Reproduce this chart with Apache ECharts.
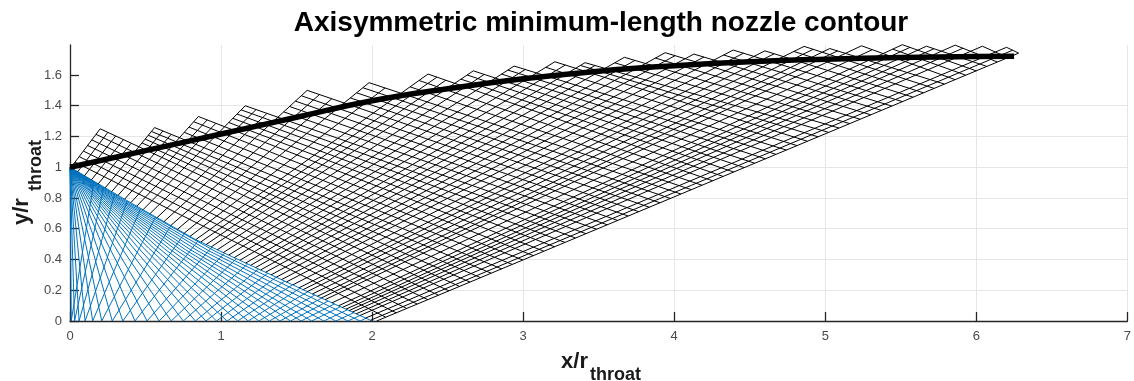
<!DOCTYPE html>
<html>
<head>
<meta charset="utf-8">
<title>Axisymmetric minimum-length nozzle contour</title>
<script src="https://cdn.jsdelivr.net/npm/echarts@6.0.0/dist/echarts.min.js"></script>
<style>
  html, body { margin: 0; padding: 0; background: #fff; }
  #chart { width: 1134px; height: 381px; }
</style>
</head>
<body>
<div id="chart"></div>
<script>
// expansion fan from the throat corner (0,1): where each wave meets the axis
const fanAxisX = [0.008, 0.03, 0.06, 0.1, 0.15, 0.21, 0.28, 0.35, 0.43, 0.51, 0.59, 0.67, 0.75, 0.83,
  0.9, 0.97, 1.04, 1.11, 1.18, 1.25, 1.32, 1.39, 1.46, 1.53, 1.6, 1.68, 1.76, 1.84, 1.92];
// two bend points read along each fan wave (they sag a little)
const fanBend1 = [[0.002,0.8],[0.006,0.8],[0.012,0.799],[0.02,0.799],[0.03,0.798],[0.042,0.797],
  [0.056,0.796],[0.07,0.795],[0.086,0.794],[0.102,0.792],[0.118,0.791],[0.134,0.79],[0.15,0.789],
  [0.166,0.788],[0.18,0.787],[0.194,0.785],[0.208,0.784],[0.222,0.783],[0.236,0.782],[0.25,0.781],
  [0.264,0.78],[0.278,0.779],[0.292,0.778],[0.306,0.777],[0.32,0.776],[0.336,0.775],[0.352,0.774],
  [0.368,0.772],[0.384,0.771]];
const fanBend2 = [[0.004,0.5],[0.015,0.499],[0.03,0.499],[0.05,0.498],[0.075,0.496],[0.105,0.495],
  [0.14,0.493],[0.175,0.492],[0.215,0.49],[0.255,0.488],[0.295,0.486],[0.335,0.484],[0.375,0.482],
  [0.415,0.48],[0.45,0.478],[0.485,0.477],[0.52,0.475],[0.555,0.473],[0.59,0.472],[0.625,0.47],
  [0.66,0.468],[0.695,0.467],[0.73,0.465],[0.765,0.463],[0.8,0.462],[0.84,0.46],[0.88,0.458],
  [0.92,0.456],[0.96,0.454]];
// last wave of the fan = edge of the kernel
const kernelEdge = [[0,1],[0.4,0.77],[0.83,0.53],[1.2,0.36],[1.6,0.178],[2.0,0]];
// where each reflected (blue) wave reaches the kernel edge
const reflectTops = [[0.159,0.908],[0.224,0.871],[0.297,0.829],[0.379,0.782],[0.468,0.732],
  [0.566,0.677],[0.668,0.62],[0.758,0.57],[0.848,0.522],[0.939,0.48],[1.023,0.441],[1.101,0.405],
  [1.176,0.371],[1.248,0.338],[1.309,0.311],[1.365,0.285],[1.421,0.259],[1.473,0.236],[1.523,0.213],
  [1.573,0.19],[1.62,0.169],[1.666,0.149],[1.709,0.13],[1.751,0.111],[1.791,0.093],[1.836,0.073],
  [1.878,0.054],[1.92,0.036],[1.96,0.018]];
// left-running waves of the wall region: start on the kernel edge ...
const leftStarts = [[0.005,0.997],[0.051,0.971],[0.096,0.945],[0.142,0.918],[0.187,0.892],[0.233,0.866],
  [0.276,0.841],[0.318,0.817],[0.361,0.792],[0.402,0.769],[0.442,0.747],[0.483,0.723],[0.529,0.698],
  [0.576,0.672],[0.622,0.646],[0.667,0.621],[0.711,0.596],[0.756,0.571],[0.794,0.55],[0.832,0.529],
  [0.866,0.514],[0.901,0.497],[0.935,0.482],[0.975,0.463],[1.015,0.445],[1.051,0.429],[1.087,0.412],
  [1.125,0.395],[1.163,0.377],[1.196,0.362],[1.228,0.347],[1.262,0.332],[1.295,0.317],[1.331,0.3],
  [1.366,0.285],[1.4,0.269],[1.433,0.254],[1.475,0.235],[1.517,0.216],[1.544,0.204],[1.571,0.191],
  [1.605,0.176],[1.638,0.161],[1.664,0.15],[1.689,0.139],[1.734,0.118],[1.778,0.099],[1.803,0.088],
  [1.827,0.077],[1.848,0.068],[1.869,0.058],[1.895,0.047],[1.92,0.036],[1.957,0.019],[1.99,0.005]];
// ... and end at a tooth tip or on a tooth's falling side
const leftTops = [[0.2,1.25],[0.251,1.227],[0.302,1.203],[0.354,1.18],[0.405,1.156],[0.56,1.258],
  [0.615,1.236],[0.67,1.214],[0.85,1.33],[0.908,1.308],[0.966,1.286],[1.16,1.4],[1.232,1.375],
  [1.304,1.35],[1.57,1.5],[1.652,1.473],[1.733,1.445],[1.98,1.55],[2.086,1.516],[2.37,1.606],
  [2.429,1.586],[2.488,1.566],[2.67,1.627],[2.743,1.604],[2.94,1.658],[3.014,1.636],[3.21,1.686],
  [3.279,1.665],[3.41,1.68],[3.476,1.662],[3.67,1.715],[3.74,1.695],[3.94,1.745],[4.006,1.726],
  [4.13,1.736],[4.197,1.717],[4.39,1.762],[4.459,1.742],[4.6,1.757],[4.662,1.738],[4.86,1.786],
  [4.92,1.767],[5.03,1.772],[5.082,1.757],[5.24,1.79],[5.312,1.765],[5.51,1.797],[5.562,1.78],
  [5.67,1.787],[5.72,1.771],[5.86,1.794],[5.911,1.774],[6.04,1.787],[6.2,1.78],[6.24,1.761]];
// last left-running characteristic
const finalLine = [[2.03,0],[6.28,1.742]];
// right-running waves of the wall region: start (on a tooth) and end (on final line)
const rStarts = [[0.033,1.033],[0.061,1.069],[0.089,1.105],[0.116,1.142],[0.144,1.178],[0.172,1.214],[0.2,1.25],
  [0.477,1.158],[0.498,1.183],[0.518,1.208],[0.539,1.233],[0.56,1.258],
  [0.756,1.227],[0.788,1.261],[0.819,1.296],[0.85,1.33],
  [1.051,1.291],[1.078,1.318],[1.106,1.346],[1.133,1.373],[1.16,1.4],
  [1.415,1.36],[1.454,1.395],[1.492,1.43],[1.531,1.465],[1.57,1.5],
  [1.856,1.451],[1.898,1.484],[1.939,1.517],[1.98,1.55],
  [2.251,1.523],[2.311,1.564],[2.37,1.606],
  [2.588,1.573],[2.629,1.6],[2.67,1.627],
  [2.857,1.606],[2.899,1.632],[2.94,1.658],
  [3.149,1.65],[3.21,1.686],
  [3.379,1.662],[3.41,1.68],
  [3.606,1.679],[3.67,1.715],
  [3.875,1.71],[3.94,1.745],
  [4.13,1.736],
  [4.327,1.73],[4.39,1.762],
  [4.6,1.757],
  [4.792,1.753],[4.86,1.786],
  [5.03,1.772],
  [5.24,1.79],
  [5.447,1.768],[5.51,1.797],
  [5.67,1.787],
  [5.86,1.794],
  [6.04,1.787],
  [6.2,1.78]];
const rEnds = [[2.09,0.025],[2.16,0.053],[2.229,0.082],[2.299,0.11],[2.369,0.139],[2.439,0.168],
  [2.509,0.196],[2.579,0.225],[2.648,0.253],[2.718,0.282],[2.788,0.311],[2.858,0.339],[2.928,0.368],
  [2.997,0.397],[3.067,0.425],[3.137,0.454],[3.207,0.483],[3.277,0.511],[3.346,0.54],[3.416,0.568],
  [3.486,0.597],[3.556,0.626],[3.626,0.654],[3.695,0.683],[3.765,0.711],[3.835,0.74],[3.905,0.769],
  [3.975,0.797],[4.044,0.826],[4.114,0.854],[4.184,0.883],[4.254,0.912],[4.324,0.94],[4.393,0.969],
  [4.463,0.998],[4.533,1.026],[4.603,1.055],[4.673,1.084],[4.742,1.112],[4.812,1.141],[4.882,1.169],
  [4.952,1.198],[5.022,1.227],[5.091,1.255],[5.161,1.284],[5.231,1.312],[5.301,1.341],[5.371,1.37],
  [5.44,1.398],[5.51,1.427],[5.58,1.456],[5.65,1.484],[5.72,1.513],[5.789,1.541],[5.859,1.57],
  [5.929,1.599],[5.999,1.627],[6.069,1.656],[6.138,1.685],[6.208,1.713],[6.28,1.742]];
// fitted wall contour (thick line)
const wallContour = [[0,1],[0.5,1.108],[1,1.216],[1.5,1.325],[2,1.432],[2.5,1.51],[3,1.575],[3.5,1.625],
  [4,1.66],[4.5,1.686],[5,1.703],[5.5,1.714],[6,1.72],[6.25,1.722]];
const yTickValues = [0, 0.2, 0.4, 0.6, 0.8, 1, 1.2, 1.4, 1.6];

const FONT = '"Liberation Sans", Arial, Helvetica, sans-serif';
const BLUE = '#0072BD';

const chart = echarts.init(document.getElementById('chart'));

// build the line sets
const fanData = fanAxisX.map((a, i) => ({ coords: [[0, 1], fanBend1[i], fanBend2[i], [a, 0]] }));
fanData.push({ coords: kernelEdge });
const reflData = fanAxisX.map((a, i) => ({ coords: [[a, 0], reflectTops[i]] }));
const leftData = leftStarts.map((k, i) => ({ coords: [k, leftTops[i]] }));
leftData.push({ coords: finalLine });
const rightData = rStarts.map((s, i) => ({ coords: [s, rEnds[i]] }));

const lineSet = (name, data, color, width) => ({
  name: name,
  type: 'lines',
  coordinateSystem: 'cartesian2d',
  polyline: true,
  silent: true,
  clip: false,
  lineStyle: { color: color, width: width, opacity: 1, curveness: 0 },
  data: data
});

const axisColor = '#262626';

const option = {
  animation: false,
  backgroundColor: '#ffffff',
  grid: { left: 70, right: 1, top: 45, bottom: 60 },
  xAxis: {
    type: 'value',
    min: 0,
    max: 7,
    interval: 1,
    axisLine: { show: true, onZero: false, lineStyle: { color: axisColor, width: 1.3 } },
    axisTick: { show: true, inside: true, length: 9, lineStyle: { color: axisColor, width: 1.3 } },
    axisLabel: { color: '#4a4a4a', fontSize: 13, fontFamily: FONT, margin: 9 },
    splitLine: { show: true, lineStyle: { color: '#e6e6e6', width: 1 } }
  },
  yAxis: {
    type: 'value',
    min: 0,
    max: 1.795,
    interval: 0.2,
    axisLine: { show: true, onZero: false, lineStyle: { color: axisColor, width: 1.3 } },
    axisTick: { show: true, inside: true, length: 9, customValues: yTickValues,
      lineStyle: { color: axisColor, width: 1.3 } },
    axisLabel: {
      color: '#4a4a4a', fontSize: 13, fontFamily: FONT, margin: 8,
      customValues: yTickValues,
      formatter: v => String(Math.round(v * 10) / 10)
    },
    splitLine: { show: true, showMaxLine: false, lineStyle: { color: '#e6e6e6', width: 1 } }
  },
  graphic: [
    {
      type: 'text', x: 601, y: 23, silent: true,
      style: { text: 'Axisymmetric minimum-length nozzle contour', fill: '#000',
        font: 'bold 28px ' + FONT, align: 'center', verticalAlign: 'middle',
        textAlign: 'center', textVerticalAlign: 'middle' }
    },
    {
      type: 'text', x: 588, y: 373, silent: true,
      style: { text: 'x/r', fill: '#1a1a1a', font: 'bold 22px ' + FONT,
        align: 'right', verticalAlign: 'bottom', textAlign: 'right', textVerticalAlign: 'bottom' }
    },
    {
      type: 'text', x: 590, y: 384, silent: true,
      style: { text: 'throat', fill: '#1a1a1a', font: 'bold 18px ' + FONT,
        align: 'left', verticalAlign: 'bottom', textAlign: 'left', textVerticalAlign: 'bottom' }
    },
    {
      type: 'text', x: 33, y: 225, rotation: Math.PI / 2, silent: true,
      style: { text: 'y/r', fill: '#1a1a1a', font: 'bold 22px ' + FONT,
        align: 'left', verticalAlign: 'bottom', textAlign: 'left', textVerticalAlign: 'bottom' }
    },
    {
      type: 'text', x: 45, y: 191, rotation: Math.PI / 2, silent: true,
      style: { text: 'throat', fill: '#1a1a1a', font: 'bold 18px ' + FONT,
        align: 'left', verticalAlign: 'bottom', textAlign: 'left', textVerticalAlign: 'bottom' }
    }
  ],
  series: [
    lineSet('kernel fan', fanData, BLUE, 1),
    lineSet('kernel reflections', reflData, BLUE, 1),
    lineSet('left-running', leftData, '#000000', 1),
    lineSet('right-running', rightData, '#000000', 1),
    {
      name: 'wall',
      type: 'line',
      data: wallContour,
      smooth: true,
      symbol: 'none',
      silent: true,
      clip: false,
      lineStyle: { color: '#000', width: 5.5 },
      z: 5
    }
  ]
};

chart.setOption(option);
window.addEventListener('resize', () => chart.resize());
</script>
</body>
</html>
